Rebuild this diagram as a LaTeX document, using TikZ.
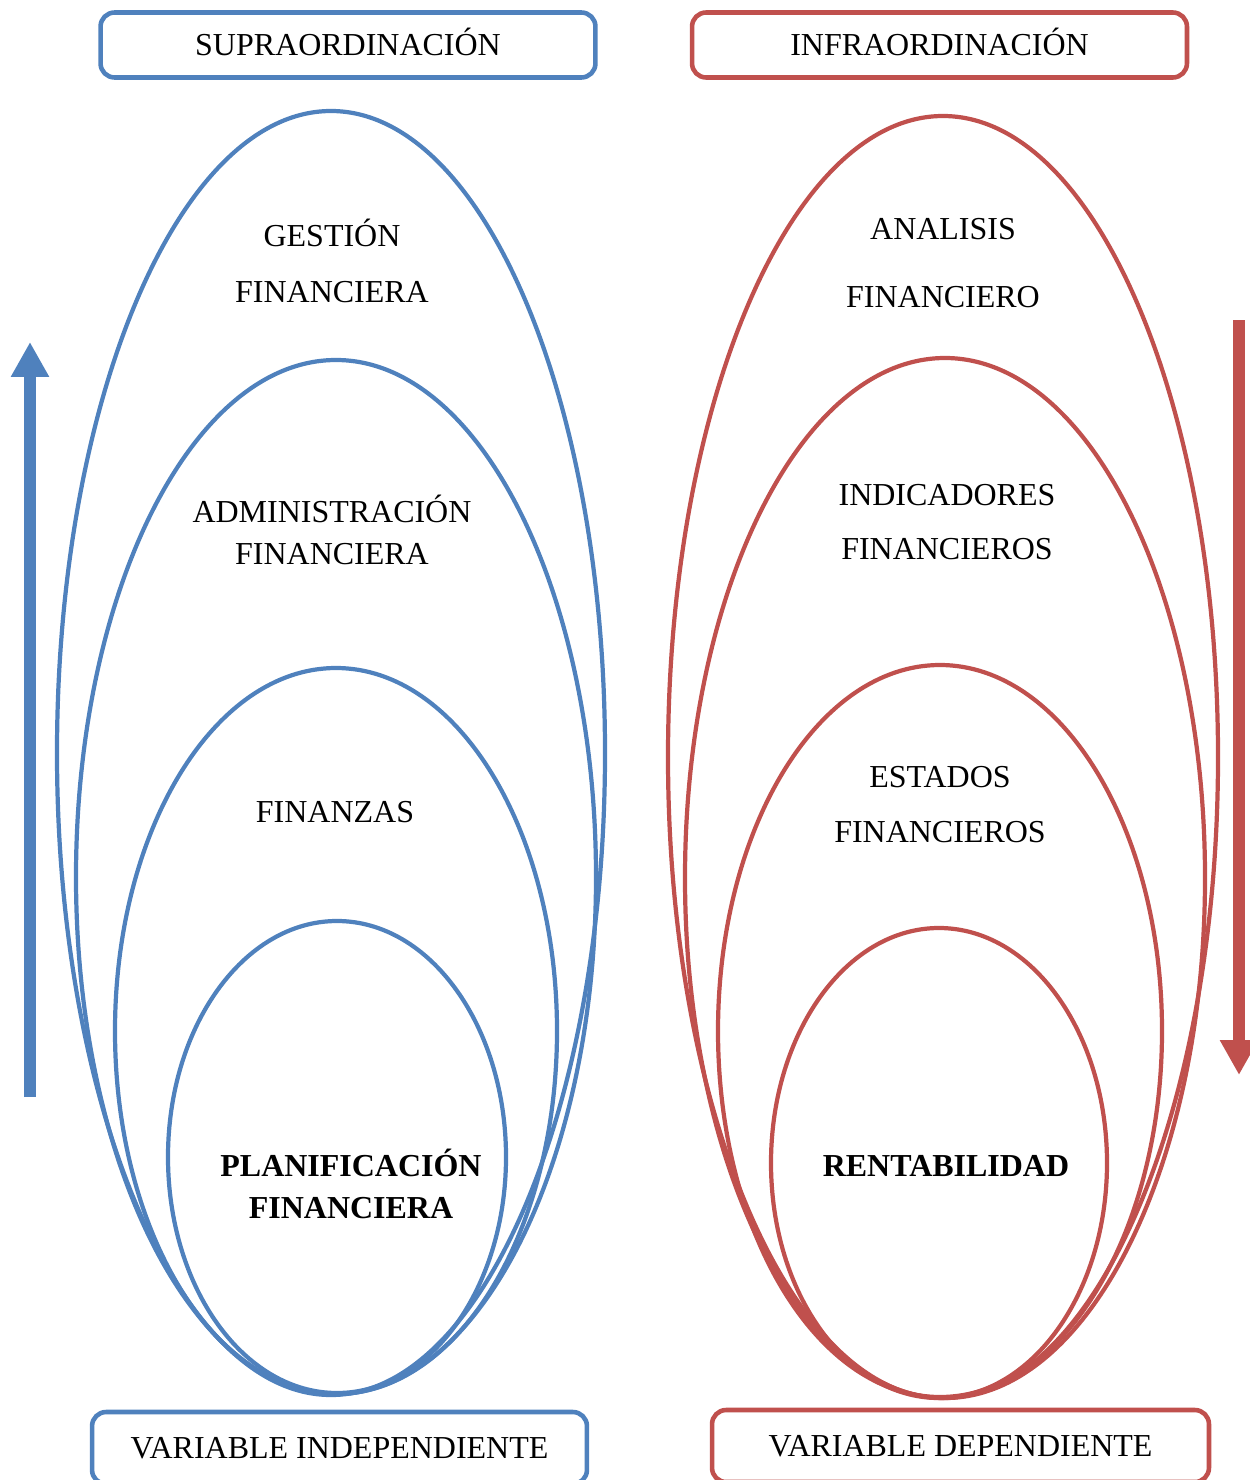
\documentclass[tikz,border=0pt]{standalone}
\usepackage{fontspec}
\setmainfont{Liberation Serif}
\usetikzlibrary{arrows.meta}
\definecolor{SupBlue}{RGB}{79,129,189}
\definecolor{InfRed}{RGB}{192,80,77}
\tikzset{
  ring/.style={line width=2.4pt},
  lbl/.style={anchor=base,inner sep=0pt,font=\fontsize{18.2}{22}\selectfont},
  tag/.style={draw,rounded corners=8pt,line width=2.6pt,fill=white,inner sep=0pt,
    text height=12pt,text depth=0pt,minimum width=9.9cm,font=\fontsize{18.2}{22}\selectfont},
}
\tikzset{shaft/.style={line width=0.24cm,-{Triangle[length=0.7cm,width=0.72cm]}}}

\begin{document}
\begin{tikzpicture}[x=0.02cm,y=-0.02cm]
\useasboundingbox (0,0) rectangle (1250,1480);
\clip (0,0) rectangle (1250,1480);
\coordinate (s1) at (331,753);
\coordinate (s2) at (336,877);
\coordinate (s3) at (336,1031);
\coordinate (s4) at (337,1157);
\coordinate (i1) at (943,757);
\coordinate (i2) at (945,878);
\coordinate (i3) at (940,1031);
\coordinate (i4) at (939,1163);
\draw[ring,SupBlue] (s1) ellipse [x radius=274,y radius=642];
\draw[ring,SupBlue] (s2) ellipse [x radius=260,y radius=517];
\draw[ring,SupBlue] (s3) ellipse [x radius=221,y radius=363];
\draw[ring,SupBlue] (s4) ellipse [x radius=169,y radius=236];
\draw[ring,InfRed] (i1) ellipse [x radius=275,y radius=641];
\draw[ring,InfRed] (i2) ellipse [x radius=260,y radius=520];
\draw[ring,InfRed] (i3) ellipse [x radius=222,y radius=366];
\draw[ring,InfRed] (i4) ellipse [x radius=168,y radius=235];
% arrows
\coordinate (upA) at (30,1097);
\coordinate (upB) at (30,342);
\coordinate (dnA) at (1239,320);
\coordinate (dnB) at (1239,1075);
\draw[shaft,SupBlue] (upA) -- (upB);
\draw[shaft,InfRed] (dnA) -- (dnB);
% boxes
\node[tag,draw=SupBlue,minimum height=1.3cm] (sup) at (348,45) {SUPRAORDINACIÓN};
\node[tag,draw=InfRed,minimum height=1.3cm] (inf) at (939.5,45) {INFRAORDINACIÓN};
\node[tag,draw=SupBlue,minimum height=1.44cm] (vi) at (339.5,1448) {VARIABLE INDEPENDIENTE};
\node[tag,draw=InfRed,minimum height=1.44cm,minimum width=9.94cm] (vd) at (960.5,1446) {VARIABLE DEPENDIENTE};
% left labels
\node[lbl] (g1) at (332,247) {GESTIÓN};
\node[lbl] (g2) at (332,302) {FINANCIERA};
\node[lbl] (a1) at (332,522) {ADMINISTRACIÓN};
\node[lbl] (a2) at (332,564) {FINANCIERA};
\node[lbl] (f1) at (335,822) {FINANZAS};
\node[lbl,font=\fontsize{18.2}{22}\selectfont\bfseries] (p1) at (351,1176) {PLANIFICACIÓN};
\node[lbl,font=\fontsize{18.2}{22}\selectfont\bfseries] (p2) at (351,1218) {FINANCIERA};
% right labels
\node[lbl] (n1) at (943,239) {ANALISIS};
\node[lbl] (n2) at (943,307) {FINANCIERO};
\node[lbl] (d1) at (947,505) {INDICADORES};
\node[lbl] (d2) at (947,559) {FINANCIEROS};
\node[lbl] (e1) at (940,787) {ESTADOS};
\node[lbl] (e2) at (940,842) {FINANCIEROS};
\node[lbl,font=\fontsize{18.2}{22}\selectfont\bfseries] (r1) at (946,1176) {RENTABILIDAD};
\end{tikzpicture}
\end{document}
